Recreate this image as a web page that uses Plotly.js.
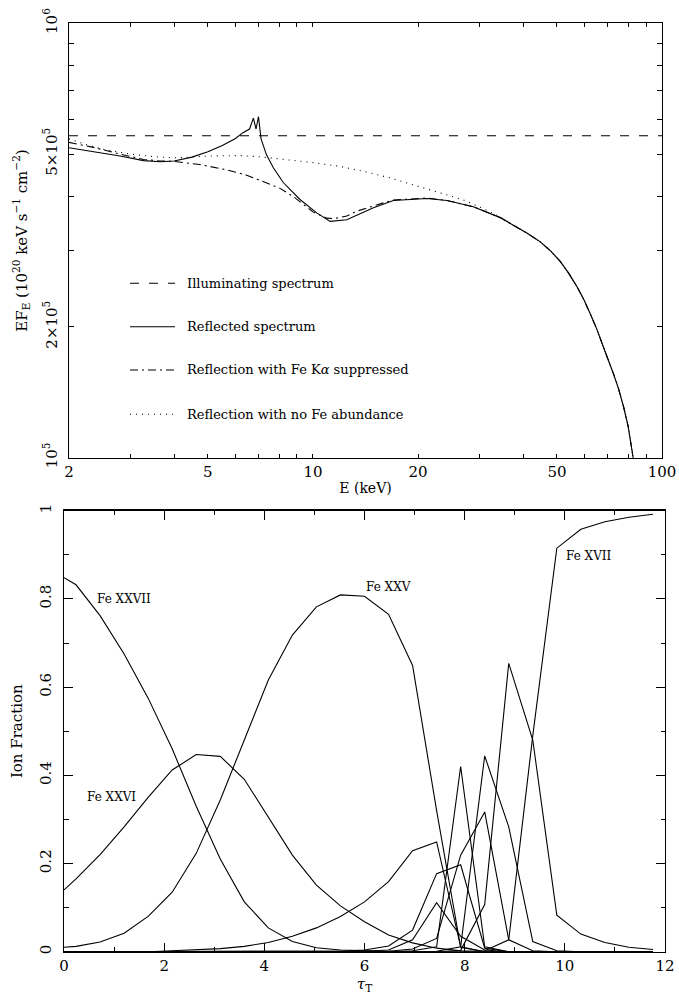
<!DOCTYPE html>
<html><head><meta charset="utf-8">
<script src="https://cdn.plot.ly/plotly-3.0.1.min.js"></script>
<style>html,body{margin:0;padding:0;background:#fff}#chart{width:679px;height:1001px}</style>
</head><body><div id="chart"></div>
<script>
// ---------- Top panel: reflection spectra ----------
const illumE = [2, 100];
const illumF = [5.51e5, 5.51e5];

const reflE = [2.0, 2.35, 2.8, 3.27, 3.65, 4.0, 4.5, 5.0, 5.5, 6.0, 6.3, 6.58, 6.75, 6.87, 6.98, 7.1, 7.36, 7.7, 8.22, 9.18, 10.25, 11.2, 12.5, 14.9, 17.0, 21.2, 24.2, 28.8, 34.4, 37.5, 41.0, 44.8, 48.0, 51.1, 54.0, 57.0, 59.6, 62.2, 65.0, 67.9, 70.2, 72.6, 75.1, 77.6, 80.0, 82.3, 83.5];
const reflF = [5.17e5, 5.07e5, 4.95e5, 4.83e5, 4.80e5, 4.82e5, 4.92e5, 5.06e5, 5.23e5, 5.43e5, 5.6e5, 5.71e5, 6.05e5, 5.71e5, 6.1e5, 5.42e5, 4.98e5, 4.65e5, 4.3e5, 3.93e5, 3.66e5, 3.5e5, 3.53e5, 3.76e5, 3.91e5, 3.95e5, 3.91e5, 3.78e5, 3.57e5, 3.43e5, 3.29e5, 3.14e5, 2.99e5, 2.83e5, 2.66e5, 2.48e5, 2.32e5, 2.15e5, 1.98e5, 1.80e5, 1.68e5, 1.56e5, 1.44e5, 1.31e5, 1.18e5, 1.03e5, 0.95e5];

const noKaE = [2.0, 2.35, 2.8, 3.27, 3.65, 4.0, 4.74, 5.66, 6.46, 7.36, 8.0, 8.79, 10.0, 10.95, 11.5, 12.5, 13.3, 15.9, 17.0, 21.2, 24.2, 28.8, 34.4, 37.5, 41.0, 44.8, 48.0, 51.1, 54.0, 57.0, 59.6, 62.2, 65.0, 67.9, 70.2, 72.6, 75.1, 77.6, 80.0, 82.3, 83.5];
const noKaF = [5.32e5, 5.18e5, 5.0e5, 4.86e5, 4.82e5, 4.81e5, 4.73e5, 4.6e5, 4.47e5, 4.3e5, 4.18e5, 3.99e5, 3.68e5, 3.56e5, 3.55e5, 3.6e5, 3.69e5, 3.86e5, 3.92e5, 3.96e5, 3.91e5, 3.78e5, 3.57e5, 3.43e5, 3.29e5, 3.14e5, 2.99e5, 2.83e5, 2.66e5, 2.48e5, 2.32e5, 2.15e5, 1.98e5, 1.80e5, 1.68e5, 1.56e5, 1.44e5, 1.31e5, 1.18e5, 1.03e5, 0.95e5];

const noFeE = [2.0, 2.2, 2.5, 3.0, 3.5, 4.07, 5.07, 6.2, 7.0, 8.05, 10.0, 12.0, 14.0, 16.6, 20.0, 23.1, 27.0, 30.0, 34.0, 37.5, 41.0, 44.8, 48.0, 51.1, 54.0, 57.0, 59.6, 62.2, 65.0, 67.9, 70.2, 72.6, 75.1, 77.6, 80.0, 82.3, 83.5];
const noFeF = [5.42e5, 5.28e5, 5.13e5, 5.0e5, 4.93e5, 4.9e5, 4.95e5, 4.96e5, 4.93e5, 4.87e5, 4.78e5, 4.68e5, 4.56e5, 4.41e5, 4.22e5, 4.07e5, 3.92e5, 3.78e5, 3.6e5, 3.43e5, 3.29e5, 3.14e5, 2.99e5, 2.83e5, 2.66e5, 2.48e5, 2.32e5, 2.15e5, 1.98e5, 1.80e5, 1.68e5, 1.56e5, 1.44e5, 1.31e5, 1.18e5, 1.03e5, 0.95e5];

const legendNames = ['Illuminating spectrum', 'Reflected spectrum', 'Reflection with Fe K<i>α</i> suppressed', 'Reflection with no Fe abundance'];

const topXTicks = [2, 5, 10, 20, 50, 100];
const topXTickText = ['2', '5', '10', '20', '50', '100'];
const topXMinor = [3, 4, 6, 7, 8, 9, 30, 40, 60, 70, 80, 90];
const topYTicks = [1e5, 2e5, 5e5, 1e6];
const topYTickText = ['10<sup>5</sup>', '2×10<sup>5</sup>', '5×10<sup>5</sup>', '10<sup>6</sup>'];
const topYMinor = [3e5, 4e5, 6e5, 7e5, 8e5, 9e5];

// ---------- Bottom panel: Fe ion fractions ----------
const tau = [0, 0.24, 0.72, 1.2, 1.68, 2.16, 2.64, 3.12, 3.6, 4.08, 4.56, 5.04, 5.52, 6.0, 6.48, 6.96, 7.44, 7.92, 8.4, 8.88, 9.36, 9.84, 10.32, 10.8, 11.28, 11.76];
const feXXVII = [0.848, 0.832, 0.762, 0.675, 0.575, 0.46, 0.33, 0.21, 0.113, 0.054, 0.023, 0.009, 0.004, 0.002, 0.001, 0, 0, 0, 0, 0, 0, 0, 0, 0, 0, 0];
const feXXVI  = [0.14, 0.165, 0.22, 0.283, 0.35, 0.412, 0.447, 0.443, 0.391, 0.306, 0.219, 0.151, 0.104, 0.068, 0.038, 0.02, 0.008, 0.002, 0, 0, 0, 0, 0, 0, 0, 0];
const feXXV   = [0.01, 0.012, 0.022, 0.042, 0.08, 0.135, 0.223, 0.344, 0.48, 0.616, 0.718, 0.782, 0.809, 0.806, 0.765, 0.649, 0.32, 0.01, 0, 0, 0, 0, 0, 0, 0, 0];
const feXXIV  = [0, 0, 0, 0, 0, 0.002, 0.004, 0.007, 0.012, 0.021, 0.035, 0.054, 0.08, 0.113, 0.159, 0.229, 0.249, 0.011, 0, 0, 0, 0, 0, 0, 0, 0];
const feXXIII = [0, 0, 0, 0, 0, 0, 0, 0, 0, 0, 0, 0, 0.001, 0.004, 0.013, 0.049, 0.177, 0.197, 0.008, 0, 0, 0, 0, 0, 0, 0];
const feXXII  = [0, 0, 0, 0, 0, 0, 0, 0, 0, 0, 0, 0, 0, 0.001, 0.004, 0.027, 0.111, 0.035, 0.004, 0, 0, 0, 0, 0, 0, 0];
const feXXI   = [0, 0, 0, 0, 0, 0, 0, 0, 0, 0, 0, 0, 0, 0, 0.001, 0.006, 0.03, 0.219, 0.317, 0.027, 0.002, 0, 0, 0, 0, 0];
const feXX    = [0, 0, 0, 0, 0, 0, 0, 0, 0, 0, 0, 0, 0, 0, 0, 0.002, 0.011, 0.42, 0.011, 0, 0, 0, 0, 0, 0, 0];
const feXIX   = [0, 0, 0, 0, 0, 0, 0, 0, 0, 0, 0, 0, 0, 0, 0, 0, 0.001, 0.011, 0.444, 0.283, 0.023, 0.002, 0, 0, 0, 0];
const feXVIII = [0, 0, 0, 0, 0, 0, 0, 0, 0, 0, 0, 0, 0, 0, 0, 0, 0, 0.003, 0.107, 0.654, 0.48, 0.083, 0.04, 0.021, 0.01, 0.005];
const feXVII  = [0, 0, 0, 0, 0, 0, 0, 0, 0, 0, 0, 0, 0, 0, 0, 0, 0, 0, 0.002, 0.027, 0.49, 0.915, 0.958, 0.975, 0.985, 0.992];

const ionLabels = ['Fe XXVII', 'Fe XXVI', 'Fe XXV', 'Fe XVII'];
const ionLabelTau = [1.2, 0.94, 6.48, 10.49];
const ionLabelFrac = [0.80, 0.35, 0.828, 0.898];

const botYTicks = [0, 0.2, 0.4, 0.6, 0.8, 1];
const botYTickText = ['0', '0.2', '0.4', '0.6', '0.8', '1'];

// ---------- Build figure ----------
const FONT = 'DejaVu Serif';
const W = 679, H = 1001;
const lineStyle = (dash) => ({color: 'black', width: 1.1, dash: dash});

const traces = [
  {x: noFeE, y: noFeF, type: 'scatter', mode: 'lines', line: lineStyle('1px,5px'), xaxis: 'x', yaxis: 'y', hoverinfo: 'skip'},
  {x: noKaE, y: noKaF, type: 'scatter', mode: 'lines', line: lineStyle('8px,4px,2px,4px'), xaxis: 'x', yaxis: 'y', hoverinfo: 'skip'},
  {x: reflE, y: reflF, type: 'scatter', mode: 'lines', line: lineStyle('solid'), xaxis: 'x', yaxis: 'y', hoverinfo: 'skip'},
  {x: illumE, y: illumF, type: 'scatter', mode: 'lines', line: lineStyle('9px,10px'), xaxis: 'x', yaxis: 'y', hoverinfo: 'skip'}
];
const ions = [feXXVII, feXXVI, feXXV, feXXIV, feXXIII, feXXII, feXXI, feXX, feXIX, feXVIII, feXVII];
ions.forEach(v => traces.push({x: tau, y: v, type: 'scatter', mode: 'lines', line: {color: 'black', width: 1.1}, xaxis: 'x2', yaxis: 'y2', hoverinfo: 'skip', cliponaxis: false}));

// legend (drawn inside the top panel)
const legDash = ['9px,10px', 'solid', '8px,4px,2px,4px', '1px,5px'];
const legRowsPx = [283.3, 326.7, 370, 414.3];
const shapes = [];
const annotations = [];
legendNames.forEach((name, i) => {
  const yp = 1 - legRowsPx[i] / H;
  shapes.push({type: 'line', xref: 'paper', yref: 'paper', x0: 130 / W, x1: 175 / W, y0: yp, y1: yp, line: {color: 'black', width: 1.1, dash: legDash[i]}});
  annotations.push({xref: 'paper', yref: 'paper', x: 185 / W, y: yp, xanchor: 'left', yanchor: 'middle', text: name, showarrow: false, font: {family: FONT, size: 13, color: 'black'}});
});
ionLabels.forEach((t, i) => {
  annotations.push({xref: 'x2', yref: 'y2', x: ionLabelTau[i], y: ionLabelFrac[i], text: t, showarrow: false, xanchor: 'center', yanchor: 'middle', font: {family: FONT, size: 12, color: 'black'}});
});

const axCommon = {showline: true, linecolor: 'black', linewidth: 1.3, mirror: 'allticks', ticks: 'inside', tickcolor: 'black', tickwidth: 1, showgrid: false, zeroline: false, tickfont: {family: FONT, size: 15, color: 'black'}};

const layout = {
  width: W, height: H, margin: {l: 0, r: 0, t: 0, b: 0},
  paper_bgcolor: 'white', plot_bgcolor: 'white', showlegend: false,
  font: {family: FONT, size: 14, color: 'black'},
  xaxis: Object.assign({}, axCommon, {
    type: 'log', domain: [69 / W, 662 / W], range: [Math.log10(2), 2], anchor: 'y',
    tickmode: 'array', tickvals: topXTicks, ticktext: topXTickText, ticklen: 4,
    minor: {tickmode: 'array', tickvals: topXMinor, ticks: 'inside', ticklen: 4, tickcolor: 'black', showgrid: false},
    title: {text: 'E (keV)', standoff: 3, font: {family: FONT, size: 14, color: 'black'}}
  }),
  yaxis: Object.assign({}, axCommon, {
    type: 'log', domain: [1 - 457.7 / H, 1 - 23.3 / H], range: [5, 6], anchor: 'x',
    tickmode: 'array', tickvals: topYTicks, ticktext: topYTickText, tickangle: -90, ticklen: 5, ticklabelstandoff: 5,
    minor: {tickmode: 'array', tickvals: topYMinor, ticks: 'inside', ticklen: 5, tickcolor: 'black', showgrid: false},
    title: {text: 'EF<sub>E</sub> (10<sup>20</sup> keV s<sup>−1</sup> cm<sup>−2</sup>)', standoff: 9, font: {family: FONT, size: 15, color: 'black'}}
  }),
  xaxis2: Object.assign({}, axCommon, {
    domain: [64 / W, 665 / W], range: [0, 12], anchor: 'y2',
    tick0: 0, dtick: 2, ticklen: 9,
    minor: {tick0: 0, dtick: 1, ticks: 'inside', ticklen: 4.5, tickcolor: 'black', showgrid: false},
    title: {text: '<i>τ</i><sub>T</sub>', standoff: 3, font: {family: FONT, size: 15, color: 'black'}}
  }),
  yaxis2: Object.assign({}, axCommon, {
    domain: [1 - 951.7 / H, 1 - 510.7 / H], range: [0, 1], anchor: 'x2',
    tickmode: 'array', tickvals: botYTicks, ticktext: botYTickText, tickangle: -90, ticklen: 9, ticklabelstandoff: 6,
    minor: {tick0: 0, dtick: 0.1, ticks: 'inside', ticklen: 4.5, tickcolor: 'black', showgrid: false},
    title: {text: 'Ion Fraction', standoff: 10, font: {family: FONT, size: 15, color: 'black'}}
  }),
  shapes: shapes,
  annotations: annotations
};

Plotly.newPlot('chart', traces, layout, {staticPlot: true, displayModeBar: false});
</script>
</body></html>
